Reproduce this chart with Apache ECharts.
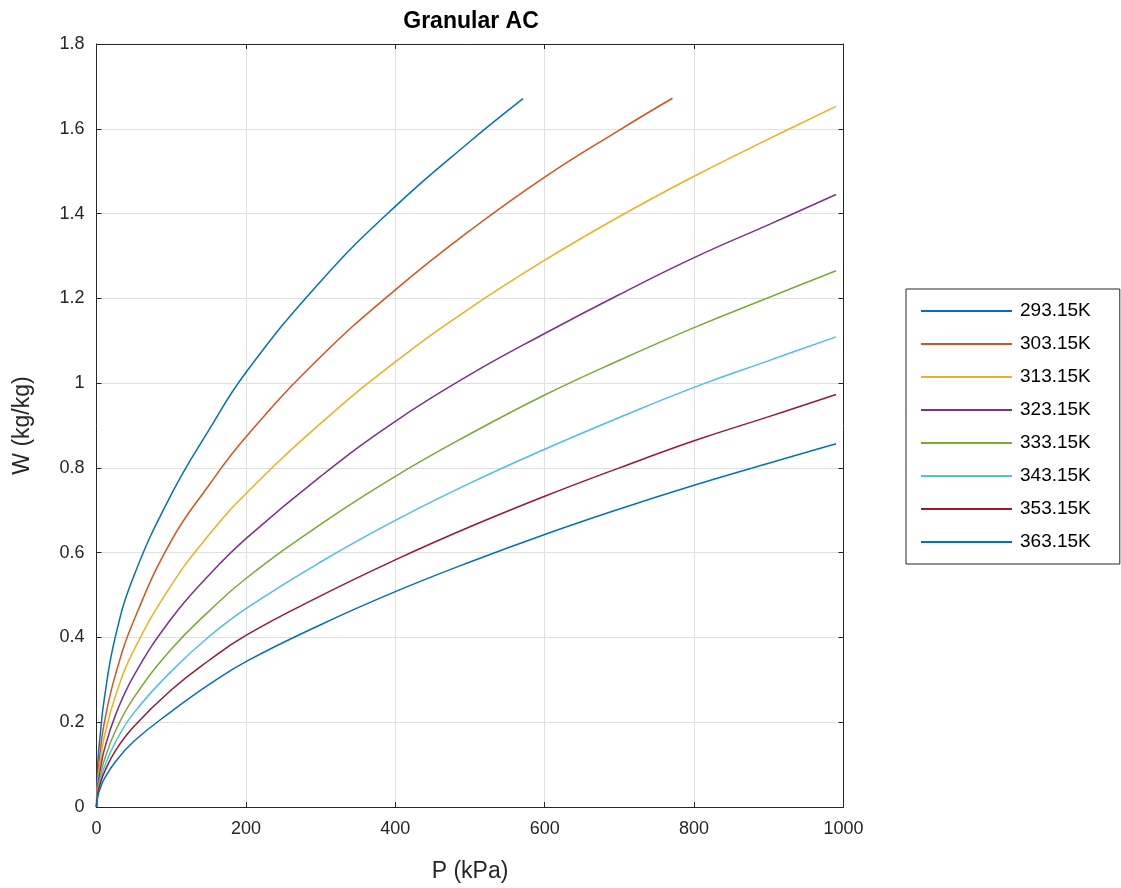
<!DOCTYPE html>
<html>
<head>
<meta charset="utf-8">
<script src="https://cdn.jsdelivr.net/npm/echarts@6/dist/echarts.min.js"></script>
<style>
html,body{margin:0;padding:0;background:#fff;}
#chart{width:1121px;height:888px;}
</style>
</head>
<body>
<div id="chart"></div>
<script>
// ---- data (P in kPa, W in kg/kg) ----
const SERIES_NAMES = ['293.15K','303.15K','313.15K','323.15K','333.15K','343.15K','353.15K','363.15K'];
const X_TICKS = [0, 200, 400, 600, 800, 1000];
const Y_TICKS = [0, 0.2, 0.4, 0.6, 0.8, 1, 1.2, 1.4, 1.6, 1.8];

const P_293 = [0, 2, 5, 10, 25, 50, 100, 150, 200, 300, 400, 500, 571];
const W_293 = [0, 0.11, 0.17, 0.25, 0.40, 0.545, 0.737, 0.888, 1.025, 1.24, 1.417, 1.57, 1.671];

const P_303 = [0, 2, 5, 10, 25, 50, 100, 150, 200, 300, 400, 500, 600, 700, 771];
const W_303 = [0, 0.08, 0.13, 0.195, 0.31, 0.44, 0.628, 0.758, 0.873, 1.062, 1.22, 1.36, 1.486, 1.597, 1.672];

const P_FULL = [0, 2, 5, 10, 25, 50, 100, 150, 200, 300, 400, 500, 600, 700, 800, 900, 990];
const W_313 = [0, 0.065, 0.105, 0.162, 0.26, 0.37, 0.523, 0.641, 0.739, 0.905, 1.050, 1.177, 1.290, 1.393, 1.488, 1.576, 1.653];
const W_323 = [0, 0.052, 0.087, 0.132, 0.215, 0.31, 0.444, 0.546, 0.633, 0.780, 0.910, 1.020, 1.117, 1.209, 1.296, 1.374, 1.445];
const W_333 = [0, 0.045, 0.072, 0.108, 0.178, 0.258, 0.372, 0.461, 0.539, 0.667, 0.780, 0.880, 0.972, 1.054, 1.131, 1.202, 1.265];
const W_343 = [0, 0.04, 0.062, 0.092, 0.152, 0.222, 0.320, 0.401, 0.468, 0.578, 0.676, 0.764, 0.844, 0.919, 0.990, 1.053, 1.109];
const W_353 = [0, 0.035, 0.055, 0.08, 0.132, 0.19, 0.276, 0.345, 0.405, 0.498, 0.583, 0.661, 0.733, 0.800, 0.864, 0.921, 0.973];
const W_363 = [0, 0.027, 0.044, 0.065, 0.106, 0.155, 0.225, 0.288, 0.343, 0.430, 0.508, 0.578, 0.643, 0.703, 0.759, 0.811, 0.857];

const COLORS = ['#0072BD','#D95319','#EDB120','#7E2F8E','#77AC30','#4DBEEE','#A2142F','#0072BD'];

function pairs(xs, ys){ return xs.map((x,i)=>[x, ys[i]]); }
const SERIES_DATA = [
  pairs(P_293, W_293),
  pairs(P_303, W_303),
  pairs(P_FULL, W_313),
  pairs(P_FULL, W_323),
  pairs(P_FULL, W_333),
  pairs(P_FULL, W_343),
  pairs(P_FULL, W_353),
  pairs(P_FULL, W_363)
];

const AX = '#262626';
const FONT = 'Liberation Sans, Arial, Helvetica, sans-serif';
const fmtY = v => String(+(+v).toFixed(1));
const fmtX = v => String(Math.round(v));

const baseX = {
  type:'value', min:X_TICKS[0], max:X_TICKS[X_TICKS.length-1], interval:X_TICKS[1]-X_TICKS[0],
  axisLine:{show:true, onZero:false, lineStyle:{color:AX, width:1}},
  axisTick:{show:true, inside:true, length:5, lineStyle:{color:AX}},
  splitLine:{show:false}
};
const baseY = {
  type:'value', min:Y_TICKS[0], max:Y_TICKS[Y_TICKS.length-1], interval:0.2,
  axisLine:{show:true, onZero:false, lineStyle:{color:AX, width:1}},
  axisTick:{show:true, inside:true, length:5, lineStyle:{color:AX}},
  splitLine:{show:false}
};

const chart = echarts.init(document.getElementById('chart'), null, {renderer:'canvas'});
chart.setOption({
  backgroundColor:'#ffffff',
  animation:false,
  title:{
    text:'Granular AC', left:466, top:5, textAlign:'center',
    textStyle:{fontFamily:FONT, fontSize:23, fontWeight:'bold', color:'#000'}
  },
  grid:{left:96.5, right:277.5, top:44, bottom:79, containLabel:false},
  legend:{
    orient:'vertical', left:906, top:289,
    padding:[12, 29, 12, 15],
    borderColor:AX, borderWidth:1, borderRadius:0,
    backgroundColor:'#fff',
    icon:'rect',
    itemWidth:91, itemHeight:2, itemGap:13,
    textStyle:{fontFamily:FONT, fontSize:19, lineHeight:20, color:'#000', padding:[0,0,0,3]},
    data:SERIES_NAMES
  },
  xAxis:[
    Object.assign({}, baseX, {
      position:'bottom',
      name:'P (kPa)', nameLocation:'middle', nameGap:53,
      nameTextStyle:{fontFamily:FONT, fontSize:23, color:AX},
      axisLabel:{fontFamily:FONT, fontSize:18, color:AX, margin:13, formatter:fmtX},
      splitLine:{show:true, lineStyle:{color:'#e0e0e0', width:1}}
    }),
    Object.assign({}, baseX, {position:'top', axisLabel:{show:false}})
  ],
  yAxis:[
    Object.assign({}, baseY, {
      position:'left',
      name:'W (kg/kg)', nameLocation:'middle', nameGap:62,
      nameTextStyle:{fontFamily:FONT, fontSize:23, color:AX},
      axisLabel:{fontFamily:FONT, fontSize:18, color:AX, margin:12, formatter:fmtY},
      splitLine:{show:true, lineStyle:{color:'#e0e0e0', width:1}}
    }),
    Object.assign({}, baseY, {position:'right', axisLabel:{show:false}})
  ],
  series: SERIES_NAMES.map((name, i)=>({
    name, type:'line', xAxisIndex:0, yAxisIndex:0,
    data:SERIES_DATA[i],
    smooth:0.45,
    symbol:'none', showSymbol:false,
    lineStyle:{color:COLORS[i], width:1.5},
    itemStyle:{color:COLORS[i]},
    z:2+i
  }))
});
</script>
</body>
</html>
